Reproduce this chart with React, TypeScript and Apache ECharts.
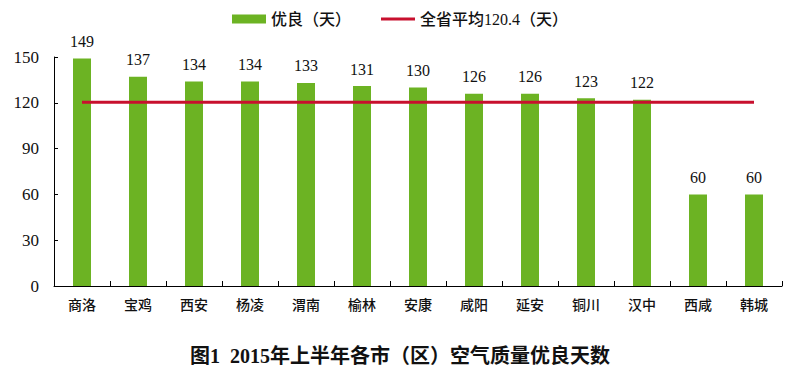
import React, { useEffect, useRef } from "react";
import * as echarts from "echarts";

const categories = ["商洛", "宝鸡", "西安", "杨凌", "渭南", "榆林", "安康", "咸阳", "延安", "铜川", "汉中", "西咸", "韩城"];
const goodDays = [149, 137, 134, 134, 133, 131, 130, 126, 126, 123, 122, 60, 60];
const provinceAvg = 120.4;
const avgLine = categories.map(() => provinceAvg);
const yTicks = { min: 0, max: 150, interval: 30 };
const seriesNames = ["优良（天）", "全省平均120.4（天）"];
const chartTitle = "图1  2015年上半年各市（区）空气质量优良天数";

const mixed = "Liberation Serif, Noto Sans CJK SC";
const cjk = "Noto Sans CJK SC";

export default function App() {
  const ref = useRef<HTMLDivElement>(null);
  useEffect(() => {
    if (!ref.current) return;
    const chart = echarts.init(ref.current, undefined, { renderer: "svg" });
    chart.setOption({
      animation: false,
      backgroundColor: "#ffffff",
      textStyle: { fontFamily: mixed },
      title: {
        text: chartTitle,
        left: "center",
        top: 341,
        textStyle: { fontSize: 20, fontWeight: "bold", color: "#111", fontFamily: mixed },
      },
      legend: {
        top: 6,
        left: "center",
        itemGap: 30,
        itemWidth: 34,
        itemHeight: 9,
        textStyle: { fontSize: 16, color: "#111", fontFamily: mixed, fontWeight: 500 },
        data: [
          { name: seriesNames[0], icon: "rect" },
          { name: seriesNames[1], icon: "path://M0 0 H34 V3 H0 Z" },
        ],
      },
      grid: { left: 54, right: 18, top: 57, bottom: 93 },
      xAxis: {
        type: "category",
        data: categories,
        boundaryGap: true,
        axisLine: { lineStyle: { color: "#000", width: 1 } },
        axisTick: { show: true, inside: true, length: 5, interval: 0, lineStyle: { color: "#000" } },
        axisLabel: { interval: 0, fontSize: 14, color: "#111", margin: 11, fontFamily: cjk, fontWeight: 500 },
      },
      yAxis: {
        type: "value",
        min: yTicks.min,
        max: yTicks.max,
        interval: yTicks.interval,
        axisLine: { show: true, lineStyle: { color: "#000", width: 1 } },
        axisTick: { show: true, inside: true, length: 4, lineStyle: { color: "#000" } },
        splitLine: { show: false },
        axisLabel: { fontSize: 17, color: "#111", margin: 15, fontFamily: mixed, fontWeight: 500 },
      },
      series: [
        {
          name: seriesNames[0],
          type: "bar",
          data: goodDays,
          barWidth: 18,
          itemStyle: { color: "#6cb323" },
          label: { show: true, position: "top", distance: 9, fontSize: 16, color: "#111", fontFamily: mixed, fontWeight: 500 },
        },
        {
          name: seriesNames[1],
          type: "line",
          data: avgLine,
          symbol: "none",
          lineStyle: { color: "#c8102e", width: 3 },
          itemStyle: { color: "#c8102e" },
          z: 3,
        },
      ],
    });
    return () => chart.dispose();
  }, []);
  return <div ref={ref} style={{ position: "absolute", left: 0, top: 0, width: 800, height: 379 }} />;
}
